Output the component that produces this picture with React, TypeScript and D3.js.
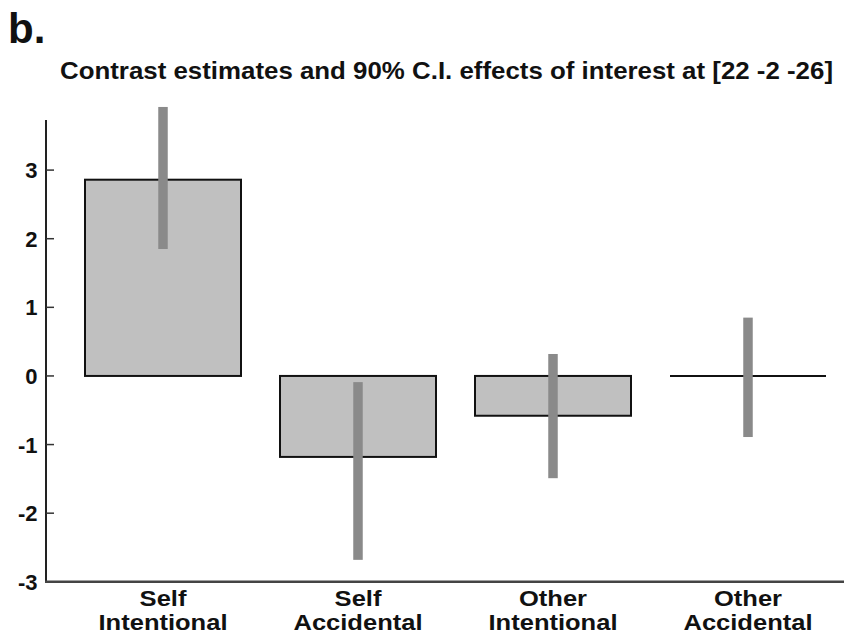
import React from "react";
import * as d3 from "d3";

const categories = [
  ["Self", "Intentional"],
  ["Self", "Accidental"],
  ["Other", "Intentional"],
  ["Other", "Accidental"],
];
const estimates = [2.86, -1.18, -0.58, 0.0];
const ciLow = [1.85, -2.68, -1.49, -0.89];
const ciHigh = [3.92, -0.09, 0.32, 0.85];
const yTicks = [-3, -2, -1, 0, 1, 2, 3];
const titleText = "Contrast estimates and 90% C.I. effects of interest at [22 -2 -26]";
const panelLabel = "b.";

const W = 844;
const H = 636;
const FONT = "'Liberation Sans', Arial, Helvetica, sans-serif";

export default function App() {
  const axisX = 46;
  const y = d3.scaleLinear().domain([-3, 3.73]).range([581.8, 120]);
  const x = d3
    .scaleBand<number>()
    .domain(d3.range(categories.length))
    .range([46, 865])
    .paddingInner(0.2)
    .paddingOuter(0.2);
  const bw = x.bandwidth();
  const ciW = 9.5;

  return (
    <svg
      width={W}
      height={H}
      style={{ position: "absolute", left: 0, top: 0, background: "#fff" }}
      fontFamily={FONT}
    >
      <text x={8} y={43} fontSize={42} fontWeight="bold" fill="#111">
        {panelLabel}
      </text>
      <text
        x={60}
        y={79}
        fontSize={24}
        fontWeight="bold"
        fill="#111"
        textLength={773}
        lengthAdjust="spacingAndGlyphs"
      >
        {titleText}
      </text>

      {/* bars */}
      {estimates.map((v, i) => {
        const x0 = x(i)!;
        if (v === 0) {
          return (
            <line
              key={"b" + i}
              x1={x0}
              x2={x0 + bw}
              y1={y(0)}
              y2={y(0)}
              stroke="#111"
              strokeWidth={2}
            />
          );
        }
        const top = y(Math.max(0, v));
        const bot = y(Math.min(0, v));
        return (
          <rect
            key={"b" + i}
            x={x0}
            y={top}
            width={bw}
            height={bot - top}
            fill="#c0c0c0"
            stroke="#111"
            strokeWidth={2}
          />
        );
      })}

      {/* confidence intervals */}
      {estimates.map((_, i) => {
        const cx = x(i)! + bw / 2;
        return (
          <rect
            key={"ci" + i}
            x={cx - ciW / 2}
            y={y(ciHigh[i])}
            width={ciW}
            height={y(ciLow[i]) - y(ciHigh[i])}
            fill="#8a8a8a"
          />
        );
      })}

      {/* y axis */}
      <line x1={axisX} x2={axisX} y1={y(3.73)} y2={y(-3) + 1} stroke="#222" strokeWidth={2} />
      {yTicks.map((t) => (
        <g key={"t" + t}>
          <line x1={axisX} x2={axisX + 8} y1={y(t)} y2={y(t)} stroke="#333" strokeWidth={1.5} />
          <text
            x={37.5}
            y={y(t) + 8}
            textAnchor="end"
            fontSize={22}
            fontWeight="bold"
            fill="#111"
          >
            {t}
          </text>
        </g>
      ))}

      {/* x axis */}
      <line x1={axisX - 1} x2={W} y1={y(-3)} y2={y(-3)} stroke="#444" strokeWidth={2.5} />
      {categories.map((c, i) => {
        const cx = x(i)! + bw / 2;
        return (
          <g key={"c" + i}>
            <text
              transform={`translate(${cx},605.5) scale(1.16,1)`}
              textAnchor="middle"
              fontSize={22}
              fontWeight="bold"
              fill="#111"
            >
              {c[0]}
            </text>
            <text
              transform={`translate(${cx},629.5) scale(1.16,1)`}
              textAnchor="middle"
              fontSize={22}
              fontWeight="bold"
              fill="#111"
            >
              {c[1]}
            </text>
          </g>
        );
      })}
    </svg>
  );
}
